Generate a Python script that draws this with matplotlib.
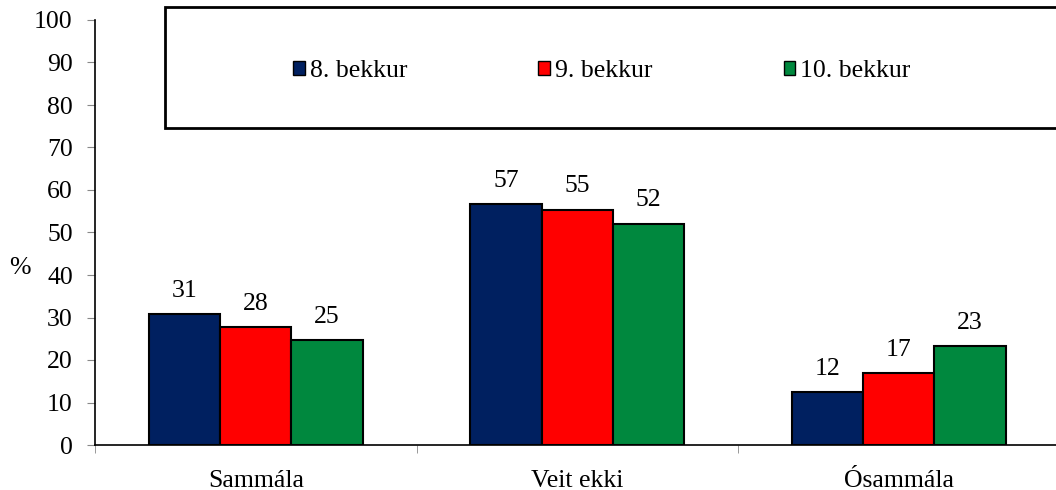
import matplotlib.pyplot as plt
import numpy as np
from matplotlib.patches import Patch, Rectangle

categories = ['Sammála', 'Veit ekki', 'Ósammála']
series_names = ['8. bekkur', '9. bekkur', '10. bekkur']
values_8 = [30.8, 56.7, 12.4]
values_9 = [27.7, 55.3, 16.9]
values_10 = [24.7, 52.0, 23.2]
colors = ['#002060', '#ff0000', '#00883e']

plt.rcParams['font.family'] = ['Liberation Serif', 'DejaVu Serif']
fs = 18.5

fig = plt.figure(figsize=(10.56, 4.9), dpi=100)
ax = fig.add_axes([95 / 1056, 45 / 490, 964.5 / 1056, 425 / 490])

x = np.arange(len(categories))
width = 0.222
series = [values_8, values_9, values_10]
for i, vals in enumerate(series):
    pos = x + (i - 1) * width
    bars = ax.bar(pos, vals, width, color=colors[i], edgecolor='black', linewidth=1.5, zorder=3)
    for b, v in zip(bars, vals):
        ax.annotate('{:.0f}'.format(v), (b.get_x() + b.get_width() / 2, v),
                    xytext=(0, 9), textcoords='offset points',
                    ha='center', va='bottom', fontsize=fs)

ax.set_xlim(-0.5, 2.5)
ax.set_ylim(0, 100)
ax.set_yticks(np.arange(0, 101, 10))
ax.set_xticks(x)
ax.set_xticklabels(categories)
ax.set_xticks([-0.5, 0.5, 1.5, 2.5], minor=True)
ax.tick_params(axis='x', which='major', length=0, pad=18, labelsize=fs)
ax.tick_params(axis='x', which='minor', length=6, color='#888888', direction='out')
ax.tick_params(axis='y', length=6, color='#888888', direction='out', pad=10, labelsize=fs)
for s in ['top', 'right']:
    ax.spines[s].set_visible(False)
for s in ['left', 'bottom']:
    ax.spines[s].set_linewidth(1.2)

fig.text(20 / 1056, 1 - 268 / 490, '%', fontsize=fs, ha='center', va='center')

# legend box running off the right edge
box = Rectangle((165 / 1056, 1 - 128 / 490), 1.0, 121 / 490, transform=fig.transFigure,
                facecolor='white', edgecolor='black', linewidth=2, zorder=5)
fig.patches.append(box)

handles = [Patch(facecolor=c, edgecolor='black', linewidth=1) for c in colors]
leg = fig.legend(handles, series_names, loc='center', bbox_to_anchor=(602 / 1056, 1 - 71 / 490),
                 ncol=3, frameon=False, fontsize=fs, handlelength=0.45, handleheight=0.45,
                 handletextpad=0.2, columnspacing=5.1)
leg.set_zorder(6)

fig.savefig('out.png', dpi=100)
